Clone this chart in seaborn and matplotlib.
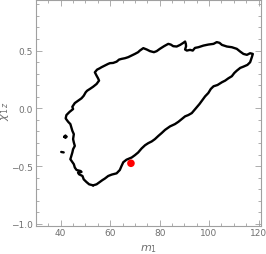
import numpy as np
import pandas as pd
import matplotlib
matplotlib.use("Agg")
import matplotlib.pyplot as plt
from matplotlib.ticker import MultipleLocator
import seaborn as sns

# Main contour (closed), data coordinates
contour_m1 = [53.1, 51.5, 50.4, 49.3, 48.8, 47.4, 47.0, 48.4, 48.0, 46.4, 45.7, 45.3, 44.7, 43.9,
              44.3, 44.7, 45.0, 45.7, 45.3, 45.0, 45.3, 44.7, 44.3, 43.9, 43.0, 42.0, 42.3, 43.6,
              45.0, 44.7, 45.7, 47.0, 48.4, 49.3, 50.1, 50.7, 51.8, 53.1, 54.5, 55.5, 55.1, 54.5,
              53.8, 54.7, 55.8, 56.5, 57.8, 59.2, 59.9, 61.2, 62.6, 63.6, 64.6, 66.0, 67.3, 68.7,
              70.0, 71.3, 72.0, 73.4, 74.8, 76.1, 77.7, 78.8, 80.1, 81.8, 83.5, 84.5, 85.5, 86.9,
              88.3, 89.6, 90.3, 90.6, 90.7, 90.3, 91.0, 92.3, 93.4, 94.3, 95.7, 97.7, 99.7, 101.8,
              103.1, 104.2, 105.2, 107.2, 109.2, 111.2, 112.6, 113.9, 115.3, 116.6, 117.7, 117.3,
              116.6, 115.5, 113.9, 112.6, 111.2, 110.2, 109.2, 107.8, 106.5, 105.2, 103.4, 101.8,
              100.7, 99.7, 98.4, 97.1, 96.1, 95.0, 93.0, 91.6, 90.3, 88.9, 87.6, 86.2, 84.2, 82.2,
              80.8, 79.5, 78.1, 76.8, 75.4, 74.1, 72.7, 71.3, 70.0, 68.7, 66.6, 65.3, 64.6, 63.9,
              62.6, 60.6, 59.2, 57.8, 56.9, 55.8, 54.5, 53.1]
contour_chi = [-0.666, -0.657, -0.637, -0.614, -0.585, -0.570, -0.556, -0.550, -0.542, -0.533,
               -0.512, -0.483, -0.464, -0.440, -0.411, -0.382, -0.353, -0.325, -0.295, -0.266,
               -0.223, -0.194, -0.165, -0.136, -0.116, -0.087, -0.058, -0.030, -0.006, 0.014,
               0.046, 0.066, 0.087, 0.109, 0.139, 0.153, 0.168, 0.187, 0.211, 0.240, 0.260,
               0.283, 0.312, 0.335, 0.347, 0.356, 0.370, 0.385, 0.391, 0.393, 0.404, 0.422,
               0.428, 0.434, 0.443, 0.457, 0.471, 0.486, 0.500, 0.521, 0.509, 0.495, 0.486,
               0.495, 0.515, 0.538, 0.558, 0.552, 0.538, 0.535, 0.549, 0.567, 0.578, 0.558,
               0.538, 0.509, 0.500, 0.506, 0.500, 0.523, 0.529, 0.543, 0.552, 0.558, 0.573,
               0.567, 0.549, 0.535, 0.529, 0.515, 0.491, 0.471, 0.463, 0.477, 0.471, 0.443,
               0.399, 0.376, 0.361, 0.350, 0.326, 0.306, 0.278, 0.260, 0.240, 0.226, 0.202,
               0.191, 0.168, 0.133, 0.104, 0.066, 0.037, 0.009, -0.041, -0.058, -0.069, -0.093,
               -0.116, -0.136, -0.156, -0.186, -0.214, -0.238, -0.266, -0.286, -0.301, -0.319,
               -0.347, -0.382, -0.405, -0.425, -0.444, -0.466, -0.498, -0.533, -0.562, -0.573,
               -0.585, -0.608, -0.620, -0.637, -0.657, -0.666]

# Small islands
island1_m1 = [41.3, 41.9, 42.5, 41.9, 41.3]
island1_chi = [-0.245, -0.233, -0.245, -0.257, -0.245]
island2_m1 = [40.2, 41.2]
island2_chi = [-0.377, -0.381]

# Red point
point_m1 = [68.4]
point_chi = [-0.475]

xticks = [40, 60, 80, 100, 120]
yticks = [-1.0, -0.5, 0.0, 0.5]

sns.set_style("white")
fig = plt.figure(figsize=(2.66, 2.55), dpi=100)
ax = fig.add_axes([36/266, 1 - 226.7/255, 225/266, 226/255])

sns.lineplot(x=contour_m1, y=contour_chi, sort=False, estimator=None, color="black",
             linewidth=1.7, ax=ax)
sns.lineplot(x=island1_m1, y=island1_chi, sort=False, estimator=None, color="black",
             linewidth=1.4, ax=ax)
sns.lineplot(x=island2_m1, y=island2_chi, sort=False, estimator=None, color="black",
             linewidth=1.7, ax=ax)
sns.scatterplot(x=point_m1, y=point_chi, color="red", s=30, edgecolor="none", ax=ax, zorder=5)

ax.set_xlim(30, 121)
ax.set_ylim(-1.015, 0.94)
ax.set_xticks(xticks)
ax.set_xticklabels([str(v) for v in xticks])
ax.set_yticks(yticks)
ax.set_yticklabels(["\u22121.0", "\u22120.5", "0.0", "0.5"])
ax.xaxis.set_minor_locator(MultipleLocator(5))
ax.yaxis.set_minor_locator(MultipleLocator(0.1))

frame_col = "#a0a0a0"
for sp in ax.spines.values():
    sp.set_color(frame_col)
    sp.set_linewidth(0.8)
ax.tick_params(which="both", direction="in", top=True, right=True, bottom=True, left=True,
               color=frame_col, width=0.6, labelsize=6.5, labelcolor="#707070", pad=2)
ax.tick_params(which="major", length=4)
ax.tick_params(which="minor", length=2)

ax.set_xlabel(r"$m_1$", fontsize=8, color="#707070")
ax.set_ylabel(r"$\chi_{1\,z}$", fontsize=8, color="#707070")
ax.xaxis.set_label_coords(0.498, -0.075)
ax.yaxis.set_label_coords(-0.11, 0.51)

fig.savefig("out.png", dpi=100)
